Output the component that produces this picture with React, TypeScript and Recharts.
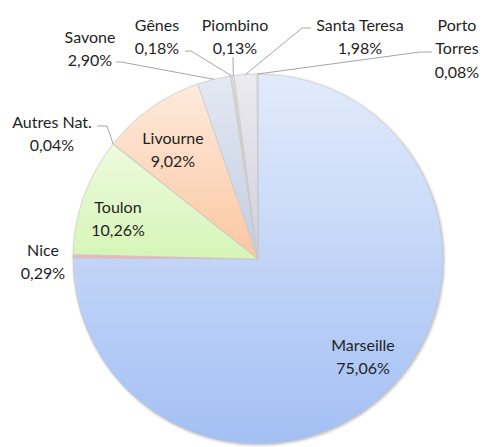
import { PieChart, Pie, Cell } from 'recharts';

// parts de trafic par port
const ports = ['Marseille', 'Nice', 'Toulon', 'Autres Nat.', 'Livourne', 'Savone', 'Gênes', 'Piombino', 'Santa Teresa', 'Porto Torres'];
const shares = [75.06, 0.29, 10.26, 0.04, 9.02, 2.9, 0.18, 0.13, 1.98, 0.08];

const data = ports.map((name, i) => ({ name, value: shares[i] }));

// dégradés haut -> bas pour chaque part
const gradients: [string, string][] = [
  ['#e2ebfb', '#a3bff4'],
  ['#f4bcc3', '#eea9b2'],
  ['#edfbdf', '#d6f5b6'],
  ['#f5e6b0', '#eed890'],
  ['#fdeadd', '#fbc7a0'],
  ['#e4e9f2', '#c2cde2'],
  ['#e6dbd2', '#d4c6ba'],
  ['#eee9e2', '#ddd5cb'],
  ['#ecebf0', '#d1cedb'],
  ['#dfe8f6', '#c9d8ee'],
];

// placement des étiquettes (comme dans le graphique Excel)
type LabelPos = { x: number; y: number; from?: number[][]; twoLineName?: boolean };
const layout: Record<string, LabelPos> = {
  'Marseille': { x: 363, y: 344 },
  'Toulon': { x: 118, y: 206 },
  'Livourne': { x: 173, y: 137 },
  'Nice': { x: 43, y: 249 },
  'Autres Nat.': { x: 52, y: 121, from: [[97, 126], [107, 126]] },
  'Savone': { x: 90, y: 36, from: [[116, 62], [121, 62]] },
  'Gênes': { x: 157, y: 24, from: [[185, 51], [191, 51]] },
  'Piombino': { x: 235, y: 24, from: [[233, 57]] },
  'Santa Teresa': { x: 360, y: 24, from: [[311, 28], [302, 28]] },
  'Porto Torres': { x: 457, y: 24, from: [[432, 52], [420, 52]], twoLineName: true },
};

const RADIAN = Math.PI / 180;
const fmt = (v: number) => v.toFixed(2).replace('.', ',') + '%';

const renderLabel = (props: any) => {
  const { cx, cy, midAngle, outerRadius, index } = props;
  const name = ports[index];
  const pos = layout[name];
  const lines = pos.twoLineName ? [...name.split(' '), fmt(shares[index])] : [name, fmt(shares[index])];
  const ex = cx + Math.cos(-midAngle * RADIAN) * outerRadius;
  const ey = cy + Math.sin(-midAngle * RADIAN) * outerRadius;
  const pts = pos.from ? [...pos.from, [ex, ey]] : null;
  return (
    <g key={`lbl-${index}`}>
      {pts && (
        <polyline
          points={pts.map((p) => p.join(',')).join(' ')}
          fill="none"
          stroke="#a6a6a6"
          strokeWidth={1}
        />
      )}
      {lines.map((t, i) => (
        <text
          key={i}
          x={pos.x}
          y={pos.y + i * 23.5}
          textAnchor="middle"
          dominantBaseline="central"
          fill="#1f1f1f"
          fontSize={16}
          fontFamily="Lato, 'Open Sans', sans-serif"
        >
          {t}
        </text>
      ))}
    </g>
  );
};

export default function App() {
  return (
    <div style={{ position: 'absolute', left: 0, top: 0, width: 482, height: 447, background: '#ffffff' }}>
      <style>{`.recharts-layer:has(> .recharts-pie-sector) { filter: drop-shadow(1px 1.5px 1.5px rgba(0,0,0,0.28)); }`}</style>
      <PieChart width={482} height={447} margin={{ top: 0, right: 0, bottom: 0, left: 0 }}>
        <defs>
          {gradients.map(([top, bottom], i) => (
            <linearGradient key={i} id={`grad${i}`} x1="0" y1="0" x2="0" y2="1">
              <stop offset="0%" stopColor={top} />
              <stop offset="100%" stopColor={bottom} />
            </linearGradient>
          ))}
        </defs>
        <Pie
          data={data}
          dataKey="value"
          nameKey="name"
          cx={258}
          cy={259}
          outerRadius={185}
          startAngle={90}
          endAngle={-270}
          stroke="#c8c8c8"
          strokeWidth={0.6}
          label={renderLabel}
          labelLine={false}
          isAnimationActive={false}
        >
          {data.map((d, i) => (
            <Cell key={d.name} fill={`url(#grad${i})`} />
          ))}
        </Pie>
      </PieChart>
    </div>
  );
}
